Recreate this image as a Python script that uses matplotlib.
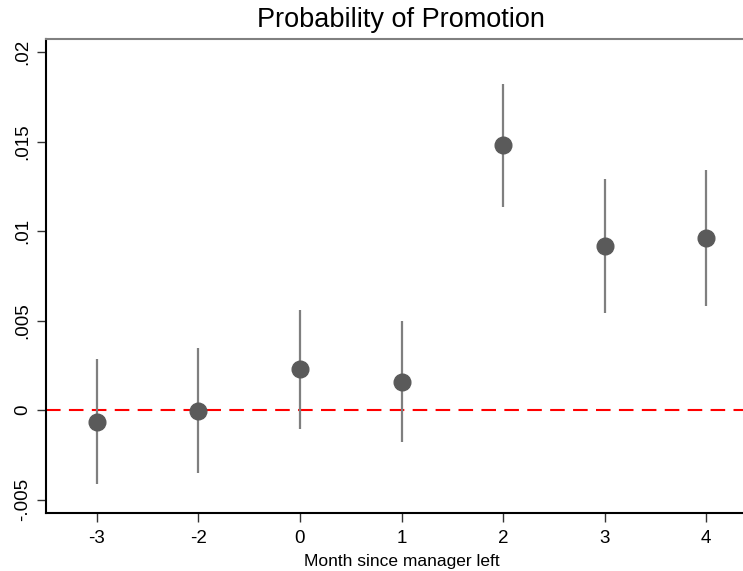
import matplotlib
matplotlib.use("Agg")
import matplotlib.pyplot as plt
import numpy as np

plt.rcParams['font.family'] = ['Liberation Sans', 'DejaVu Sans']

# event-study estimates by month relative to the manager leaving
months = ['-3', '-2', '0', '1', '2', '3', '4']
coef = [-0.00067, -0.00006, 0.00227, 0.00158, 0.0148, 0.00916, 0.00959]
ci_low = [-0.00413, -0.00352, -0.00108, -0.0018, 0.01136, 0.00544, 0.00583]
ci_high = [0.00285, 0.00346, 0.00559, 0.00499, 0.01821, 0.01289, 0.01341]

yticks = [-0.005, 0, 0.005, 0.01, 0.015, 0.02]
ytick_labels = ['-.005', '0', '.005', '.01', '.015', '.02']

fig = plt.figure(figsize=(7.43, 5.71), dpi=100)
ax = fig.add_axes([0.0619, 0.1016, 0.957, 0.830])

x = np.arange(len(months))

# confidence intervals
ax.vlines(x, ci_low, ci_high, color='#7f7f7f', lw=1.6, zorder=2)
# zero reference line
ax.axhline(0, color='#ff0000', lw=1.5, ls=(0, (7, 4)), zorder=1)
# point estimates
ax.plot(x, coef, 'o', color='#5a5a5a', markersize=12, zorder=3)

ax.set_xlim(-0.5, 6.5)
ax.set_ylim(-0.00575, 0.02073)
ax.set_xticks(x)
ax.set_xticklabels(months, fontsize=13.5)
ax.set_yticks(yticks)
ax.set_yticklabels(ytick_labels, fontsize=13.5, rotation=90, va='center')
ax.tick_params(axis='x', length=6.5, width=1, color='#333333', pad=6)
ax.tick_params(axis='y', length=6.5, width=1, color='#333333', pad=4)

ax.spines['right'].set_visible(False)
ax.spines['top'].set_color('#808080')
ax.spines['top'].set_linewidth(1.5)
ax.spines['left'].set_linewidth(1.5)
ax.spines['bottom'].set_linewidth(1.5)

ax.set_xlabel('Month since manager left', fontsize=12.5, labelpad=5)
fig.text(0.539, 1 - 20 / 571, 'Probability of Promotion', fontsize=19.5,
         ha='center', va='center')

fig.savefig('out.png', dpi=100)
